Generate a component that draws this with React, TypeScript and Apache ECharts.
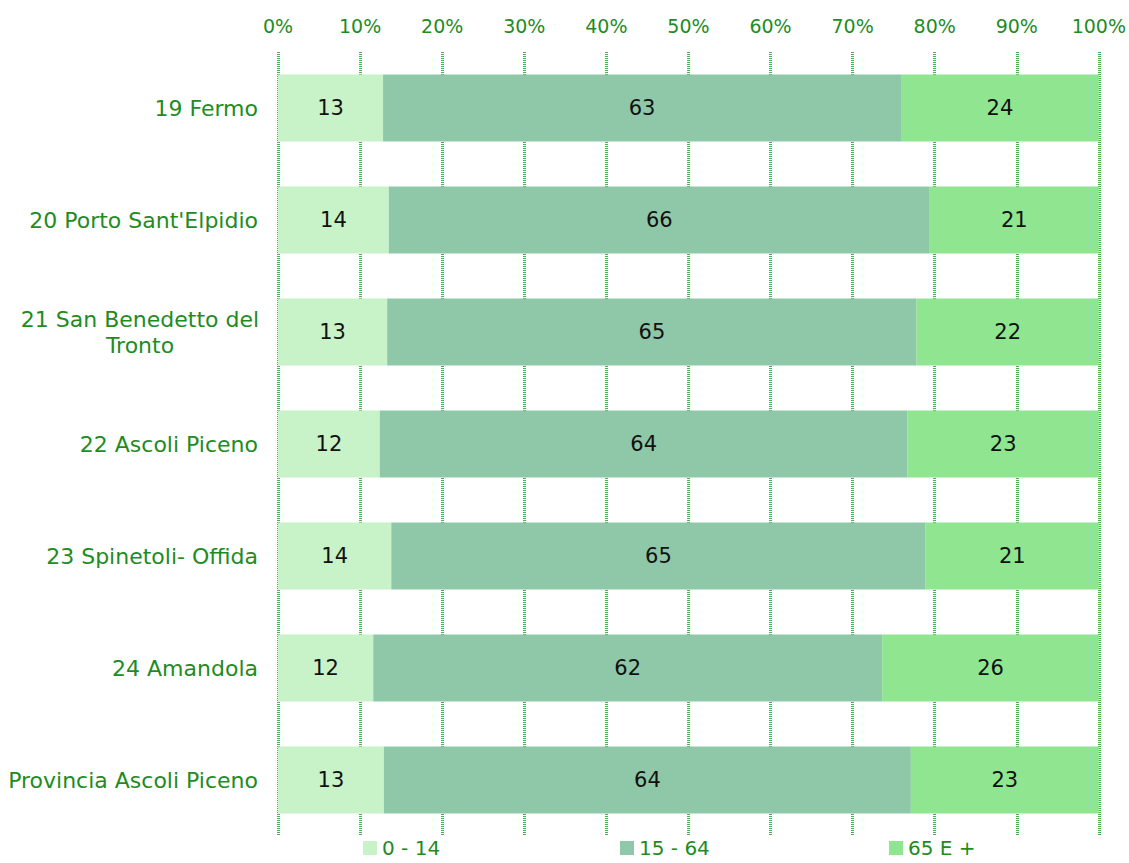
import React, { useEffect, useRef } from "react";
import * as echarts from "echarts";

const categories = [
  "19 Fermo",
  "20 Porto Sant'Elpidio",
  "21 San Benedetto del\nTronto",
  "22 Ascoli Piceno",
  "23 Spinetoli- Offida",
  "24 Amandola",
  "Provincia Ascoli Piceno",
];
const seriesNames = ["0 - 14", "15 - 64", "65 E +"];
const age0_14 = [12.8, 13.5, 13.3, 12.4, 13.8, 11.6, 12.9];
const age15_64 = [63.1, 65.9, 64.5, 64.3, 65.1, 62.0, 64.2];
const age65plus = [24.1, 20.6, 22.2, 23.3, 21.1, 26.4, 22.9];
const xTicks = [0, 10, 20, 30, 40, 50, 60, 70, 80, 90, 100];

const colors = ["#c8f2c8", "#8ec8a8", "#90e690"];
const green = "#1e8c1e";
const font = "Verdana, 'DejaVu Sans', sans-serif";
const legendLefts = [363, 620, 889];

export default function App() {
  const ref = useRef<HTMLDivElement>(null);
  useEffect(() => {
    if (!ref.current) return;
    const chart = echarts.init(ref.current, undefined, { renderer: "svg" });
    const data = [age0_14, age15_64, age65plus];
    chart.setOption({
      animation: false,
      grid: { left: 278, right: 30, top: 52, bottom: 27 },
      legend: seriesNames.map((name, i) => ({
        top: 838,
        left: legendLefts[i],
        padding: 0,
        itemWidth: 14,
        itemHeight: 14,
        itemGap: 6,
        icon: "rect",
        textStyle: { color: green, fontSize: 20, fontFamily: font },
        data: [name],
      })),
      xAxis: {
        type: "value",
        position: "top",
        min: xTicks[0],
        max: xTicks[xTicks.length - 1],
        interval: 10,
        axisLine: { show: false },
        axisTick: { show: false },
        axisLabel: {
          formatter: "{value}%",
          color: green,
          fontSize: 19,
          fontFamily: font,
          margin: 17,
        },
        splitLine: {
          show: true,
          lineStyle: { color: "#4caf50", width: 3, type: [1, 1] },
        },
      },
      yAxis: {
        type: "category",
        inverse: true,
        data: categories.map((c) =>
          c.indexOf("\n") >= 0
            ? { value: c, textStyle: { align: "center", padding: [0, 236, 0, 0] } }
            : c
        ),
        axisLine: { show: false },
        axisTick: { show: false },
        axisLabel: {
          color: green,
          fontSize: 22,
          fontFamily: font,
          margin: 20,
          lineHeight: 26,
        },
      },
      series: seriesNames.map((name, i) => ({
        name,
        type: "bar",
        stack: "total",
        barWidth: "60%",
        data: data[i],
        itemStyle: { color: colors[i] },
        label: {
          show: true,
          position: "inside",
          color: "#111",
          fontSize: 21,
          fontFamily: font,
          formatter: (p: any) => String(Math.round(p.value)),
        },
      })),
    });
    return () => chart.dispose();
  }, []);
  return (
    <div
      ref={ref}
      style={{ position: "absolute", left: 0, top: 0, width: 1129, height: 863 }}
    />
  );
}
